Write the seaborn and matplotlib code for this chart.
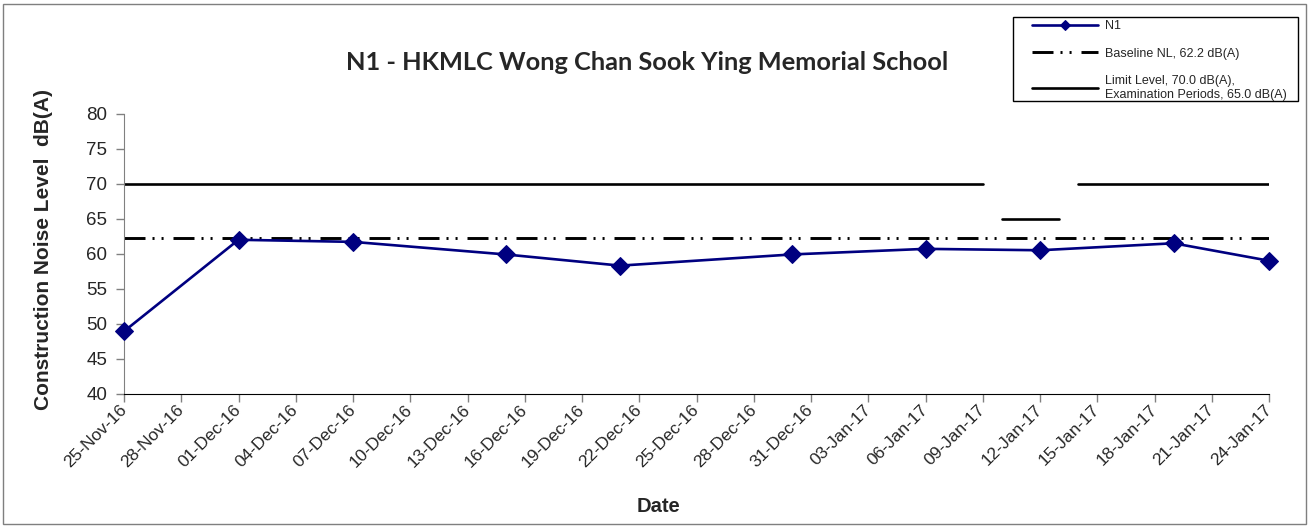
import pandas as pd
import matplotlib
matplotlib.use('Agg')
import matplotlib.pyplot as plt
import matplotlib.dates as mdates
from matplotlib.patches import Rectangle
import seaborn as sns

# N1 measurements
dates = ['2016-11-25', '2016-12-01', '2016-12-07', '2016-12-15', '2016-12-21',
         '2016-12-30', '2017-01-06', '2017-01-12', '2017-01-19', '2017-01-24']
n1 = [48.9, 62.0, 61.7, 59.9, 58.3, 59.9, 60.7, 60.5, 61.5, 59.0]

# baseline and limit levels
baseline_level = 62.2
baseline_dates = ['2016-11-25', '2017-01-24']
limit_start = ['2016-11-25', '2017-01-10', '2017-01-14']
limit_end = ['2017-01-09', '2017-01-13', '2017-01-24']
limit_level = [70.0, 65.0, 70.0]

labels = ['N1', 'Baseline NL, 62.2 dB(A)',
          'Limit Level, 70.0 dB(A),\nExamination Periods, 65.0 dB(A)']

n1_df = pd.DataFrame({'date': pd.to_datetime(dates), 'level': n1})
base_df = pd.DataFrame({'date': pd.to_datetime(baseline_dates),
                        'level': [baseline_level] * len(baseline_dates)})
limit_df = pd.DataFrame({
    'date': pd.to_datetime(limit_start + limit_end),
    'level': limit_level + limit_level,
    'seg': list(range(len(limit_level))) * 2,
}).sort_values(['seg', 'date'])

sns.set_style('white')
plt.rcParams['font.family'] = ['Liberation Sans', 'DejaVu Sans']

W, H = 1309, 527
fig = plt.figure(figsize=(W / 100, H / 100), dpi=100)
ax = fig.add_axes([124 / W, 1 - 393.5 / H, 1145 / W, 279.5 / H])

sns.lineplot(data=limit_df, x='date', y='level', units='seg', estimator=None,
             color='black', linewidth=1.9, ax=ax, legend=False)
limit_handle = ax.lines[-1]
sns.lineplot(data=base_df, x='date', y='level', color='black', linewidth=2.1,
             linestyle=(0, (7.2, 2.4, 0.7, 2.4, 0.7, 3.4)), ax=ax, legend=False)
base_handle = ax.lines[-1]
sns.lineplot(data=n1_df, x='date', y='level', color='#000080', linewidth=1.9,
             marker='D', markersize=9, markeredgecolor='#000080', ax=ax,
             legend=False, clip_on=False, zorder=5)
n1_handle = ax.lines[-1]

ax.set_xlim(pd.Timestamp('2016-11-25'), pd.Timestamp('2017-01-24'))
ax.set_ylim(40, 80)
ax.set_yticks(range(40, 81, 5))
ax.set_xticks(pd.date_range('2016-11-25', '2017-01-24', freq='3D'))
ax.xaxis.set_major_formatter(mdates.DateFormatter('%d-%b-%y'))

for s in ['top', 'right']:
    ax.spines[s].set_visible(False)
ax.spines['left'].set_color('#808080')
ax.spines['bottom'].set_color('black')
ax.tick_params(axis='y', direction='out', length=6, width=1, color='#808080',
               labelsize=13.5, pad=6, left=True)
ax.tick_params(axis='x', direction='out', length=6, width=1, color='#808080',
               labelsize=12.5, pad=4, bottom=True)
for lab in ax.get_xticklabels():
    lab.set_rotation(45)
    lab.set_ha('right')
    lab.set_va('center')
    lab.set_rotation_mode('anchor')

ax.set_xlabel('Date', fontsize=14.5, fontweight='bold')
ax.xaxis.set_label_coords((658 - 124) / 1145, (393.5 - 497) / 279.5)
ax.xaxis.label.set_va('top')
ax.set_ylabel('Construction Noise Level  dB(A)', fontsize=15, fontweight='bold')
ax.yaxis.set_label_coords((53 - 124) / 1145, (393.5 - 250) / 279.5)

fig.text(647 / W, 1 - 62 / H, 'N1 - HKMLC Wong Chan Sook Ying Memorial School',
         ha='center', va='center', fontsize=18.3, fontweight='bold',
         family=['Lato', 'DejaVu Sans'])

# legend without its own frame, box drawn separately
fig.legend([n1_handle, base_handle, limit_handle], labels,
           loc='upper left', bbox_to_anchor=(1029 / W, 1 - 17 / H),
           borderaxespad=0, frameon=False, fontsize=9, handlelength=5.3,
           handletextpad=0.55, labelspacing=1.25, borderpad=0.25,
           markerscale=0.55)
fig.patches.append(Rectangle((1013 / W, 1 - 101 / H), 285 / W, 84 / H,
                             transform=fig.transFigure, fill=False,
                             edgecolor='black', linewidth=1))

fig.patches.append(Rectangle((3 / W, 3 / H), 1303 / W, 520 / H,
                             transform=fig.transFigure, fill=False,
                             edgecolor='#7f7f7f', linewidth=1))

fig.savefig('out.png', dpi=100)
